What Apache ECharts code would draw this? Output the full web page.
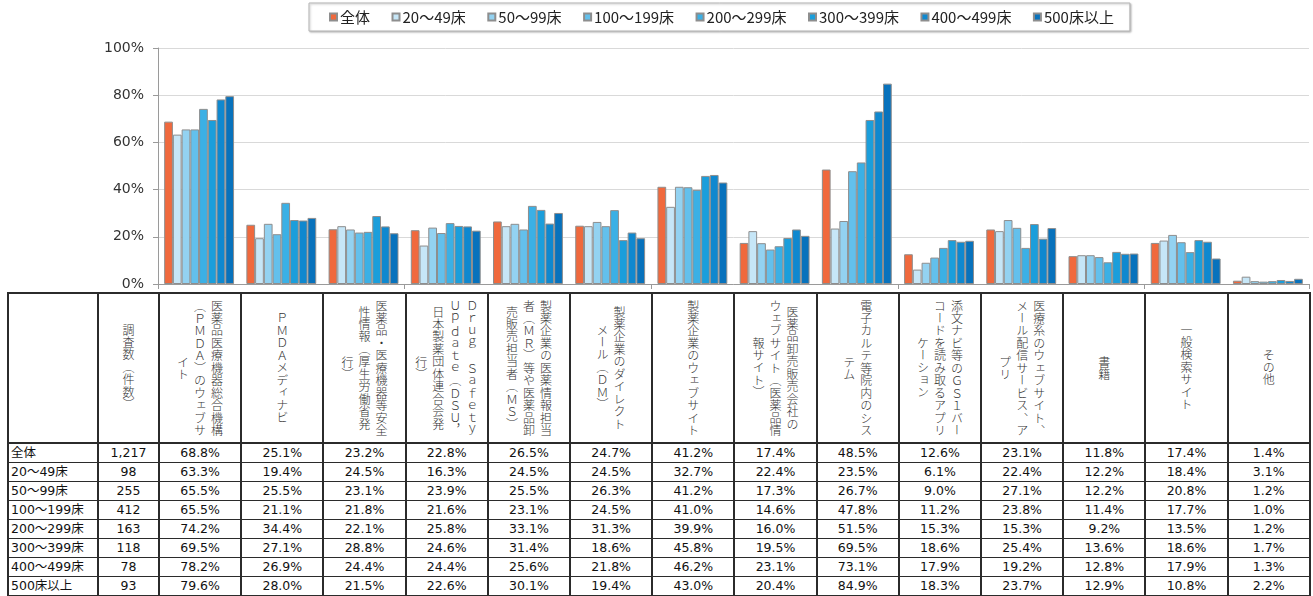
<!DOCTYPE html>
<html lang="ja">
<head>
<meta charset="utf-8">
<title>医薬品情報の入手先</title>
<script src="https://cdn.jsdelivr.net/npm/echarts/dist/echarts.min.js"></script>
<style>
  html, body {
    margin: 0;
    padding: 0;
    background: #fff;
    width: 1313px;
    height: 596px;
    overflow: hidden;
  }
  #chart {
    position: absolute;
    left: 0;
    top: 0;
    width: 1313px;
    height: 292px;
  }
  #dataTable {
    position: absolute;
    left: 7px;
    top: 292px;
    width: 1302px;
    table-layout: fixed;
    border-collapse: collapse;
    border: 2px solid #2b2b2b;
    font-family: "DejaVu Sans", "Noto Sans CJK JP", sans-serif;
    font-size: 12.5px;
    color: #111;
  }
  #dataTable td {
    border-left: 2px solid #2b2b2b;
    border-right: 2px solid #2b2b2b;
    border-top: 1px solid #2b2b2b;
    border-bottom: 1px solid #2b2b2b;
    padding: 0;
    text-align: center;
    white-space: nowrap;
    overflow: hidden;
  }
  #dataTable tr.head td {
    height: 148px;
    vertical-align: top;
    border-bottom: 2px solid #2b2b2b;
  }
  #dataTable tr.row td {
    height: 18px;
    line-height: 18px;
  }
  #dataTable td.label {
    text-align: left;
    padding-left: 2px;
  }
  .vwrap {
    display: flex;
    justify-content: center;
    padding-top: 4px;
  }
  .vtext {
    writing-mode: vertical-rl;
    height: 140px;
    font-family: "Noto Sans CJK JP", sans-serif;
    font-weight: 300;
    font-size: 12px;
    letter-spacing: 0.45px;
    line-height: 17px;
    white-space: pre;
    color: #333;
  }
</style>
</head>
<body>
<div id="chart"></div>
<table id="dataTable"></table>

<script>
// 回答区分（凡例・表の行）
const groups = ['全体', '20～49床', '50～99床', '100～199床', '200～299床', '300～399床', '400～499床', '500床以上'];
// 調査数（件数）
const counts = [1217, 98, 255, 412, 163, 118, 78, 93];
// 入手先（表の見出し、改行位置は元の表に合わせる）
const categories = [
  '医薬品医療機器総合機構\n（ＰＭＤＡ）のウェブサ\nイト',
  'ＰＭＤＡメディナビ',
  '医薬品・医療機器等安全\n性情報（厚生労働省発\n行）',
  'Ｄｒｕｇ　Ｓａｆｅｔｙ\nＵｐｄａｔｅ（ＤＳＵ，\n日本製薬団体連合会発\n行）',
  '製薬企業の医薬情報担当\n者（ＭＲ）等や医薬品卸\n売販売担当者（ＭＳ）',
  '製薬企業のダイレクト\nメール（ＤＭ）',
  '製薬企業のウェブサイト',
  '医薬品卸売販売会社の\nウェブサイト（医薬品情\n報サイト）',
  '電子カルテ等院内のシス\nテム',
  '添文ナビ等のＧＳ１バー\nコードを読み取るアプリ\nケーション',
  '医療系のウェブサイト、\nメール配信サービス、ア\nプリ',
  '書籍',
  '一般検索サイト',
  'その他'
];
const countHeader = '調査数（件数）';

// 各区分の割合（％）
const total      = [68.8, 25.1, 23.2, 22.8, 26.5, 24.7, 41.2, 17.4, 48.5, 12.6, 23.1, 11.8, 17.4, 1.4];
const beds20_49  = [63.3, 19.4, 24.5, 16.3, 24.5, 24.5, 32.7, 22.4, 23.5, 6.1, 22.4, 12.2, 18.4, 3.1];
const beds50_99  = [65.5, 25.5, 23.1, 23.9, 25.5, 26.3, 41.2, 17.3, 26.7, 9.0, 27.1, 12.2, 20.8, 1.2];
const beds100_199 = [65.5, 21.1, 21.8, 21.6, 23.1, 24.5, 41.0, 14.6, 47.8, 11.2, 23.8, 11.4, 17.7, 1.0];
const beds200_299 = [74.2, 34.4, 22.1, 25.8, 33.1, 31.3, 39.9, 16.0, 51.5, 15.3, 15.3, 9.2, 13.5, 1.2];
const beds300_399 = [69.5, 27.1, 28.8, 24.6, 31.4, 18.6, 45.8, 19.5, 69.5, 18.6, 25.4, 13.6, 18.6, 1.7];
const beds400_499 = [78.2, 26.9, 24.4, 24.4, 25.6, 21.8, 46.2, 23.1, 73.1, 17.9, 19.2, 12.8, 17.9, 1.3];
const beds500up  = [79.6, 28.0, 21.5, 22.6, 30.1, 19.4, 43.0, 20.4, 84.9, 18.3, 23.7, 12.9, 10.8, 2.2];

// y軸の目盛り
const yTicks = [0, 20, 40, 60, 80, 100];

const seriesValues = [total, beds20_49, beds50_99, beds100_199, beds200_299, beds300_399, beds400_499, beds500up];
const colors = ['#f0693d', '#c6e6f7', '#93d2f1', '#63c0ec', '#3bb0e5', '#1b9edb', '#0f88cf', '#0872bc'];

// ---- グラフ ----
const chart = echarts.init(document.getElementById('chart'), null, { renderer: 'canvas' });
chart.setOption({
  animation: false,
  color: colors,
  legend: {
    data: groups,
    left: 309,
    top: 3,
    padding: [6, 16, 6, 20],
    itemGap: 21.5,
    itemWidth: 7,
    itemHeight: 7,
    icon: 'rect',
    backgroundColor: '#fff',
    borderColor: '#b4b4b4',
    borderWidth: 1,
    shadowColor: 'rgba(0,0,0,0.25)',
    shadowBlur: 2,
    shadowOffsetX: 1,
    shadowOffsetY: 1,
    textStyle: {
      fontFamily: '"Noto Sans CJK JP", sans-serif',
      fontSize: 15,
      lineHeight: 16,
      color: '#222',
      padding: [0, 0, 0, -2]
    }
  },
  grid: {
    left: 158,
    right: 4,
    top: 48,
    bottom: 8,
    containLabel: false
  },
  xAxis: {
    type: 'category',
    data: categories,
    boundaryGap: true,
    axisLine: { lineStyle: { color: '#9a9a9a', width: 1 } },
    axisTick: { show: true, length: 5, lineStyle: { color: '#9a9a9a' } },
    axisLabel: { show: false }
  },
  yAxis: {
    type: 'value',
    min: yTicks[0],
    max: yTicks[yTicks.length - 1],
    interval: yTicks[1] - yTicks[0],
    axisLine: { show: true, lineStyle: { color: '#9a9a9a', width: 1 } },
    axisTick: { show: true, length: 5, lineStyle: { color: '#9a9a9a' } },
    axisLabel: {
      formatter: '{value}%',
      margin: 14,
      fontFamily: '"DejaVu Sans", sans-serif',
      fontSize: 14,
      color: '#333'
    },
    splitLine: { lineStyle: { color: '#d9d9d9', width: 1 } }
  },
  series: groups.map((name, i) => ({
    name: name,
    type: 'bar',
    data: seriesValues[i],
    barGap: '0%',
    barCategoryGap: '15%',
    itemStyle: {
      color: colors[i],
      borderColor: '#8e8e8e',
      borderWidth: 1
    }
  }))
});

// ---- データ表 ----
const table = document.getElementById('dataTable');
let html = '<colgroup><col style="width:90px"><col style="width:61px">';
categories.forEach(() => { html += '<col style="width:' + (1151 / categories.length) + 'px">'; });
html += '</colgroup>';

html += '<tr class="head"><td></td><td><div class="vwrap"><div class="vtext">' + countHeader + '</div></div></td>';
categories.forEach(c => {
  html += '<td><div class="vwrap"><div class="vtext">' + c + '</div></div></td>';
});
html += '</tr>';

groups.forEach((g, i) => {
  html += '<tr class="row"><td class="label">' + g + '</td><td>' + counts[i].toLocaleString('en-US') + '</td>';
  seriesValues[i].forEach(v => { html += '<td>' + v.toFixed(1) + '%</td>'; });
  html += '</tr>';
});
table.innerHTML = html;
</script>
</body>
</html>
